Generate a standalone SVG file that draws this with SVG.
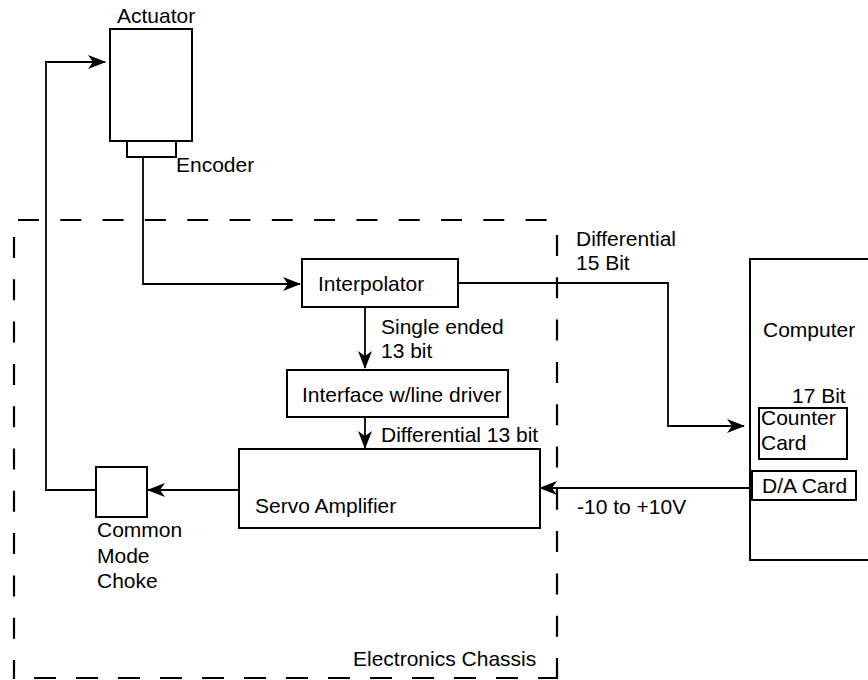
<svg xmlns="http://www.w3.org/2000/svg" width="868" height="680" viewBox="0 0 868 680">
<style>
.box{fill:none;stroke:#000;stroke-width:2}
.ln{fill:none;stroke:#000;stroke-width:1.8}
.dash{fill:none;stroke:#000;stroke-width:2.2;stroke-dasharray:21 21.3}
text{font-family:"Liberation Sans",Arial,Helvetica,sans-serif;font-size:21px;fill:#000}
</style>
<defs>
<marker id="ah" markerUnits="userSpaceOnUse" markerWidth="18" markerHeight="14" refX="17" refY="7" orient="auto">
<path d="M0,0 L18,7 L0,14 L5,7 z" fill="#000"/>
</marker>
</defs>
<rect width="868" height="680" fill="#fff"/>
<g id="chassis">
<line class="dash" x1="18" y1="220" x2="556" y2="220"/>
<line class="dash" x1="14" y1="237" x2="14" y2="679"/>
<line class="dash" x1="557" y1="235" x2="557" y2="679"/>
<line class="dash" x1="14" y1="678" x2="558" y2="678" style="stroke-dasharray:22 20;stroke-dashoffset:-20"/>
<text x="353" y="666">Electronics Chassis</text>
</g>
<g id="connectors">
<polyline class="ln" points="143,157 143,284 300,284" marker-end="url(#ah)"/>
<polyline class="ln" points="365,307 365,368" marker-end="url(#ah)"/>
<polyline class="ln" points="365,417 365,448" marker-end="url(#ah)"/>
<polyline class="ln" points="239,490 148,490" marker-end="url(#ah)"/>
<polyline class="ln" points="96,490 46,490 46,62 105,62" marker-end="url(#ah)"/>
<polyline class="ln" points="458,283 668,283 668,426 744,426" marker-end="url(#ah)"/>
<polyline class="ln" points="752,488 540,488" marker-end="url(#ah)"/>
<text x="381" y="334">Single ended</text>
<text x="381" y="358">13 bit</text>
<text x="381" y="442">Differential 13 bit</text>
<text x="576" y="246">Differential</text>
<text x="576" y="270">15 Bit</text>
<text x="577" y="514">-10 to +10V</text>
</g>
<g id="actuator">
<rect class="box" x="110" y="29" width="82" height="112"/>
<text x="117" y="23">Actuator</text>
</g>
<g id="encoder">
<rect class="box" x="127" y="141" width="49" height="16"/>
<text x="176" y="172">Encoder</text>
</g>
<g id="interpolator">
<rect class="box" x="302" y="259" width="156" height="48"/>
<text x="318" y="291">Interpolator</text>
</g>
<g id="interface">
<rect class="box" x="287" y="370" width="221" height="47"/>
<text x="302" y="402">Interface w/line driver</text>
</g>
<g id="servo">
<rect class="box" x="239" y="449" width="301" height="79"/>
<text x="255" y="513">Servo Amplifier</text>
</g>
<g id="choke">
<rect class="box" x="96" y="467" width="51" height="50"/>
<text x="97" y="537">Common</text>
<text x="97" y="563">Mode</text>
<text x="97" y="588">Choke</text>
</g>
<g id="computer">
<rect class="box" x="750" y="259" width="130" height="301"/>
<text x="763" y="337">Computer</text>
</g>
<g id="counter">
<text x="792" y="403">17 Bit</text>
<rect class="box" x="759" y="408" width="88" height="51"/>
<text x="761" y="425">Counter</text>
<text x="761" y="450">Card</text>
</g>
<g id="dacard">
<rect class="box" x="752" y="471" width="104" height="29"/>
<text x="762" y="493">D/A Card</text>
</g>
</svg>
